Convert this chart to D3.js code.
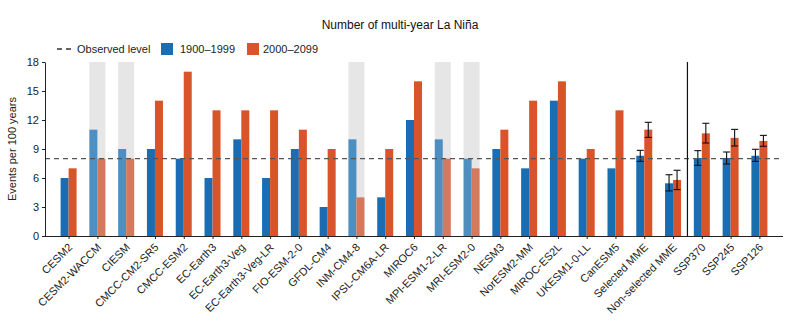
<!DOCTYPE html>
<html>
<head>
<meta charset="utf-8">
<script src="https://cdn.jsdelivr.net/npm/d3@7"></script>
<style>
  body { margin: 0; background: #fff; }
  svg { font-family: "Liberation Sans", Arial, sans-serif; }
</style>
</head>
<body>
<div id="wrapper"></div>
<script>
// models / ensembles along the x axis
const models = ["CESM2", "CESM2-WACCM", "CIESM", "CMCC-CM2-SR5", "CMCC-ESM2", "EC-Earth3",
  "EC-Earth3-Veg", "EC-Earth3-Veg-LR", "FIO-ESM-2-0", "GFDL-CM4", "INM-CM4-8", "IPSL-CM6A-LR",
  "MIROC6", "MPI-ESM1-2-LR", "MRI-ESM2-0", "NESM3", "NorESM2-MM", "MIROC-ES2L", "UKESM1-0-LL",
  "CanESM5", "Selected MME", "Non-selected MME", "SSP370", "SSP245", "SSP126"];
// events per 100 years
const hist = [6, 11, 9, 9, 8, 6, 10, 6, 9, 3, 10, 4, 12, 10, 8, 9, 7, 14, 8, 7, 8.3, 5.45, 8.07, 8.07, 8.3];
const future = [7, 8, 8, 14, 17, 13, 13, 13, 11, 9, 4, 9, 16, 8, 7, 11, 14, 16, 9, 13, 11.0, 5.8, 10.62, 10.15, 9.83];
// error ranges [index, low, high] for the ensemble means
const histErr = [[20, 7.72, 8.86], [21, 4.66, 6.34], [22, 7.31, 8.83], [23, 7.45, 8.69], [24, 7.72, 8.97]];
const futureErr = [[20, 10.2, 11.76], [21, 4.8, 6.8], [22, 9.62, 11.66], [23, 9.31, 11.03], [24, 9.28, 10.41]];
// models greyed out (excluded)
const excluded = ["CESM2-WACCM", "CIESM", "INM-CM4-8", "MPI-ESM1-2-LR", "MRI-ESM2-0"];
const observed = 8;
const yTicks = [0, 3, 6, 9, 12, 15, 18];

const width = 798, height = 329;
const margin = {top: 62, right: 15, bottom: 93, left: 45};
const boundedWidth = width - margin.left - margin.right;
const boundedHeight = height - margin.top - margin.bottom;

const colors = {hist: "#1a6db3", future: "#d9542a", histFade: "#4e8fc2", futureFade: "#d4795b"};
const barW = 8;

const svg = d3.select("#wrapper").append("svg")
  .attr("width", width)
  .attr("height", height);

const bounds = svg.append("g")
  .attr("transform", `translate(${margin.left},${margin.top})`);

const xScale = d3.scalePoint()
  .domain(models)
  .range([0, boundedWidth])
  .padding(0.82);

const yScale = d3.scaleLinear()
  .domain([0, 18])
  .range([boundedHeight, 0]);

// grey bands behind excluded models
bounds.selectAll(".band")
  .data(excluded)
  .join("rect")
  .attr("x", d => xScale(d) - barW)
  .attr("width", barW * 2)
  .attr("y", yScale(18))
  .attr("height", yScale(0) - yScale(18))
  .attr("fill", "#e6e6e6");

const rows = models.map((m, i) => ({m, h: hist[i], f: future[i], ex: excluded.includes(m)}));

bounds.selectAll(".hist")
  .data(rows)
  .join("rect")
  .attr("x", d => xScale(d.m) - barW)
  .attr("width", barW)
  .attr("y", d => yScale(d.h))
  .attr("height", d => yScale(0) - yScale(d.h))
  .attr("fill", d => d.ex ? colors.histFade : colors.hist);

bounds.selectAll(".future")
  .data(rows)
  .join("rect")
  .attr("x", d => xScale(d.m))
  .attr("width", barW)
  .attr("y", d => yScale(d.f))
  .attr("height", d => yScale(0) - yScale(d.f))
  .attr("fill", d => d.ex ? colors.futureFade : colors.future);

// error bars
function drawErr(data, offset) {
  const g = bounds.append("g").attr("stroke", "#111").attr("stroke-width", 1.1);
  data.forEach(([i, lo, hi]) => {
    const cx = xScale(models[i]) + offset;
    g.append("line").attr("x1", cx).attr("x2", cx).attr("y1", yScale(lo)).attr("y2", yScale(hi));
    g.append("line").attr("x1", cx - 3.5).attr("x2", cx + 3.5).attr("y1", yScale(lo)).attr("y2", yScale(lo));
    g.append("line").attr("x1", cx - 3.5).attr("x2", cx + 3.5).attr("y1", yScale(hi)).attr("y2", yScale(hi));
  });
}
drawErr(histErr, -barW / 2);
drawErr(futureErr, barW / 2);

// observed level
bounds.append("line")
  .attr("x1", 0)
  .attr("x2", boundedWidth - 2)
  .attr("y1", yScale(observed))
  .attr("y2", yScale(observed))
  .attr("stroke", "#555")
  .attr("stroke-width", 1.3)
  .attr("stroke-dasharray", "5,4");

// separator between models and scenarios
const sepX = (xScale("Non-selected MME") + xScale("SSP370")) / 2;
bounds.append("line")
  .attr("x1", sepX).attr("x2", sepX)
  .attr("y1", yScale(18)).attr("y2", yScale(0))
  .attr("stroke", "#111")
  .attr("stroke-width", 1.2);

// axes
const yAxis = bounds.append("g")
  .call(d3.axisLeft(yScale).tickValues(yTicks).tickSize(3).tickSizeOuter(0).tickPadding(3));
yAxis.selectAll("text").attr("font-size", 11).attr("fill", "#222").style("font-family", "Liberation Sans, Arial, sans-serif");
yAxis.select(".domain").attr("stroke", "#222");
yAxis.selectAll(".tick line").attr("stroke", "#222");

const xAxis = bounds.append("g")
  .attr("transform", `translate(0,${boundedHeight})`)
  .call(d3.axisBottom(xScale).tickSize(3).tickSizeOuter(0));
xAxis.select(".domain").attr("stroke", "#222").attr("d", `M-3,0.5H${boundedWidth}`);
xAxis.selectAll(".tick line").attr("stroke", "#222");
xAxis.selectAll("text")
  .attr("font-size", 11)
  .attr("fill", "#222")
  .style("font-family", "Liberation Sans, Arial, sans-serif")
  .attr("text-anchor", "end")
  .attr("dy", null)
  .attr("y", 0)
  .attr("transform", "translate(4,12) rotate(-45)");

// y label
svg.append("text")
  .attr("transform", `translate(16,${margin.top + boundedHeight / 2}) rotate(-90)`)
  .attr("text-anchor", "middle")
  .attr("font-size", 11)
  .attr("fill", "#222")
  .text("Events per 100 years");

// title
svg.append("text")
  .attr("x", 400)
  .attr("y", 29)
  .attr("text-anchor", "middle")
  .attr("font-size", 12)
  .attr("fill", "#111")
  .text("Number of multi-year La Niña");

// legend
const legend = svg.append("g").attr("font-size", 11).attr("fill", "#222");
legend.append("line")
  .attr("x1", 57).attr("x2", 73).attr("y1", 49).attr("y2", 49)
  .attr("stroke", "#333").attr("stroke-width", 1.3).attr("stroke-dasharray", "5,4");
legend.append("text").attr("x", 77).attr("y", 53).text("Observed level");
legend.append("rect").attr("x", 161).attr("y", 43).attr("width", 12).attr("height", 12).attr("fill", colors.hist);
legend.append("text").attr("x", 180).attr("y", 53).text("1900–1999");
legend.append("rect").attr("x", 247).attr("y", 43).attr("width", 12).attr("height", 12).attr("fill", colors.future);
legend.append("text").attr("x", 263).attr("y", 53).text("2000–2099");
</script>
</body>
</html>
